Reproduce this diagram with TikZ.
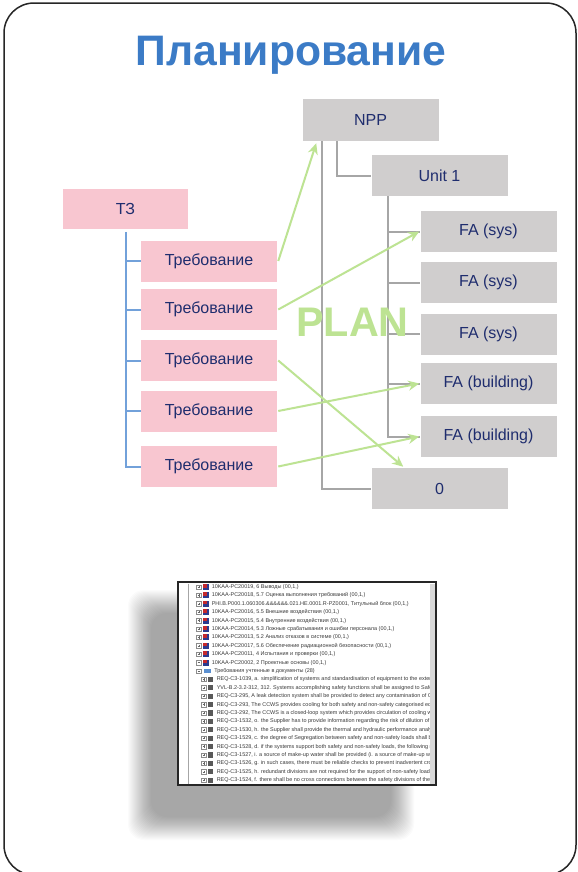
\documentclass[tikz,border=0pt]{standalone}
\usepackage{fontspec}
\setmainfont{Liberation Sans}
\usetikzlibrary{arrows.meta,calc}

\definecolor{titleblue}{HTML}{3B7BC6}
\definecolor{reqpink}{HTML}{F8C6D0}
\definecolor{plangrey}{HTML}{D0CECE}
\definecolor{labelnavy}{HTML}{1F2D6E}
\definecolor{treeblue}{HTML}{72A1DA}
\definecolor{treegrey}{HTML}{A6A6A6}
\definecolor{linkgreen}{HTML}{BDE393}
\definecolor{rowgrey}{HTML}{3A3A3A}
\definecolor{iconnavy}{HTML}{2B3A8F}
\definecolor{iconred}{HTML}{C4282D}
\definecolor{iconblue}{HTML}{5A8FD0}

\def\px{0.75pt}

\begin{document}
\begin{tikzpicture}[x=0.75pt,y=-0.75pt,
  frame/.style={draw=black!85, line width=1.5*\px, rounded corners=30*\px},
  titletext/.style={font=\fontsize{32}{34}\selectfont\bfseries, text=titleblue, inner sep=0},
  boxbase/.style={minimum width=136*\px, minimum height=41*\px, inner sep=0,
    font=\fontsize{12}{14}\selectfont, text=labelnavy},
  reqbox/.style={boxbase, fill=reqpink},
  planbox/.style={boxbase, fill=plangrey},
  bluetree/.style={draw=treeblue, line width=2*\px},
  greytree/.style={draw=treegrey, line width=2*\px},
  link/.style={draw=linkgreen, line width=2*\px,
    -{Stealth[length=11*\px, width=10*\px]}},
  plantext/.style={font=\fontsize{31}{31}\selectfont\bfseries, text=linkgreen, inner sep=0},
  rowtext/.style={anchor=west, inner sep=0, font=\fontsize{4.1}{4.5}\selectfont, text=rowgrey},
  expander/.style={draw=black!45, line width=0.3pt, fill=white}
]
\clip (0,0) rectangle (578,872);
\fill[white] (0,0) rectangle (578,872);

% outer card
\draw[frame] (4,3) rectangle (576,875);

% heading
\node[titletext, anchor=base] (title) at (291,65) {Планирование};

% ---------- requirements tree (left) ----------
\node[reqbox, minimum width=125*\px, minimum height=40*\px] (tz) at (125.5,209) {ТЗ};
\node[reqbox] (r1) at (209,261)   {Требование};
\node[reqbox] (r2) at (209,309.5) {Требование};
\node[reqbox] (r3) at (209,360.5) {Требование};
\node[reqbox] (r4) at (209,411)   {Требование};
\node[reqbox] (r5) at (209,466.5) {Требование};

\draw[bluetree] ($(tz.south)+(0,2.5)$) |- (r5.west);
\foreach \r in {r1,r2,r3,r4}
  \draw[bluetree] (tz.south |- \r.west) -- (\r.west);

% ---------- plant structure tree (right) ----------
\node[planbox, minimum height=42*\px] (npp) at (370.5,120) {NPP};
\node[planbox] (unit) at (439.5,175.5) {Unit 1};
\node[planbox] (fa1) at (488.5,231.5) {FA (sys)};
\node[planbox] (fa2) at (488.5,282.5) {FA (sys)};
\node[planbox] (fa3) at (488.5,334)   {FA (sys)};
\node[planbox] (fa4) at (488.5,383.5) {FA (building)};
\node[planbox] (fa5) at (488.5,436.5) {FA (building)};
\node[planbox] (zero) at (439.5,488.5) {0};

\coordinate (nppA) at ($(npp.south west)+(20,0)$);
\coordinate (nppB) at ($(npp.south west)+(35,0)$);
\coordinate (unitA) at ($(unit.south west)+(17,0)$);
\draw[greytree] (nppA) |- (zero.west);
\draw[greytree] (nppB) |- (unit.west);
\draw[greytree] (unitA) |- (fa5.west);
\foreach \f in {fa1,fa2,fa3,fa4}
  \draw[greytree] (unitA |- \f.west) -- (\f.west);

% ---------- links from requirements to plant items ----------
\coordinate (nppIn) at ($(npp.south west)+(14,2)$);
\coordinate (zeroIn) at ($(zero.north west)+(32,-1)$);
\draw[link] ($(r1.east)+(1,0)$) -- (nppIn);
\draw[link] ($(r2.east)+(1,0)$) -- ($(fa1.west)+(-1,0)$);
\draw[link] ($(r3.east)+(1,0)$) -- (zeroIn);
\draw[link] ($(r4.east)+(1,0)$) -- ($(fa4.west)+(-1,0)$);
\draw[link] ($(r5.east)+(1,0)$) -- ($(fa5.west)+(-1,0)$);

\node[plantext] (plan) at (352.5,322) {PLAN};

% ---------- tool screenshot with soft drop shadow ----------
\foreach \k in {0,...,23}
  \fill[black, opacity=0.014, rounded corners=16*\px]
    (128+\k,590+\k) rectangle (414-\k,840-\k);

\node[draw=black!85, line width=1.5*\px, fill=white, inner sep=0,
      minimum width=258*\px, minimum height=203*\px] (shot) at (307,683.5) {};
\fill[black!15] (429.5,583.5) rectangle (435,784);
\draw[black!35, line width=0.4pt] (188,583.5) -- (188,784);

\begin{scope}
\clip (179.5,583.5) rectangle (429.5,784);
% collapsed document nodes
\foreach \t [count=\i from 0] in {
  {10KAA-PC20019, 6 Выводы (00,1,)},
  {10KAA-PC20018, 5.7 Оценка выполнения требований (00,1,)},
  {PHI.B.P000.1.060306.\&\&\&\&\&\&.021.HE.0001.R-PZ0001, Титульный блок (00,1,)},
  {10KAA-PC20016, 5.5 Внешние воздействия (00,1,)},
  {10KAA-PC20015, 5.4 Внутренние воздействия (00,1,)},
  {10KAA-PC20014, 5.3 Ложные срабатывания и ошибки персонала (00,1,)},
  {10KAA-PC20013, 5.2 Анализ отказов в системе (00,1,)},
  {10KAA-PC20017, 5.6 Обеспечение радиационной безопасности (00,1,)},
  {10KAA-PC20011, 4 Испытания и проверки (00,1,)},
  {10KAA-PC20002, 2 Проектные основы (00,1,)}} {
  \pgfmathsetmacro\yy{587+8.4*\i}
  \draw[expander] (196.6,\yy-2.2) rectangle (201,\yy+2.2);
  \draw[black!60, line width=0.3pt] (197.6,\yy) -- (200,\yy);
  \fill[iconnavy] (203,\yy-3) rectangle (209,\yy+3);
  \fill[iconred] (203,\yy-3) rectangle (206.5,\yy+0.5);
  \node[rowtext] at (211.5,\yy) {\t};
}
\foreach \i in {0,...,8} {
  \pgfmathsetmacro\yy{587+8.4*\i}
  \draw[black!60, line width=0.3pt] (198.8,\yy-1.2) -- (198.8,\yy+1.2);
}
% requirement group header
\pgfmathsetmacro\yy{587+8.4*10}
\draw[expander] (196.6,\yy-2.2) rectangle (201,\yy+2.2);
\draw[black!60, line width=0.3pt] (197.6,\yy) -- (200,\yy);
\fill[iconblue] (203.5,\yy-2) rectangle (210.5,\yy+2);
\node[rowtext] at (214,\yy) {Требования учтенные в документы (28)};
% requirement rows
\foreach \t [count=\i from 11] in {
  {REQ-C3-1039, a. simplification of systems and standardisation of equipment to the extent necessary},
  {YVL-B.2-3.2-312, 312. Systems accomplishing safety functions shall be assigned to Safety Class},
  {REQ-C3-295, A leak detection system shall be provided to detect any contamination of CCWS},
  {REQ-C3-293, The CCWS provides cooling for both safety and non-safety categorised equipment},
  {REQ-C3-292, The CCWS is a closed-loop system which provides circulation of cooling water to},
  {REQ-C3-1532, o. the Supplier has to provide information regarding the risk of dilution of the},
  {REQ-C3-1530, h. the Supplier shall provide the thermal and hydraulic performance analyses of},
  {REQ-C3-1529, c. the degree of Segregation between safety and non-safety loads shall be agreed},
  {REQ-C3-1528, d. if the systems support both safety and non-safety loads, the following requirements},
  {REQ-C3-1527, i. a source of make-up water shall be provided (i. a source of make-up water},
  {REQ-C3-1526, g. in such cases, there must be reliable checks to prevent inadvertent cross-connection},
  {REQ-C3-1525, h. redundant divisions are not required for the support of non-safety loads, except},
  {REQ-C3-1524, f. there shall be no cross connections between the safety divisions of the system}} {
  \pgfmathsetmacro\yy{587+8.4*\i}
  \draw[expander] (201.6,\yy-2.2) rectangle (206,\yy+2.2);
  \draw[black!60, line width=0.3pt] (202.6,\yy) -- (205,\yy);
  \draw[black!60, line width=0.3pt] (203.8,\yy-1.2) -- (203.8,\yy+1.2);
  \fill[black!65] (208,\yy-2.6) rectangle (213,\yy+2.6);
  \node[rowtext] at (216.5,\yy) {\t};
}
\end{scope}
\end{tikzpicture}
\end{document}
